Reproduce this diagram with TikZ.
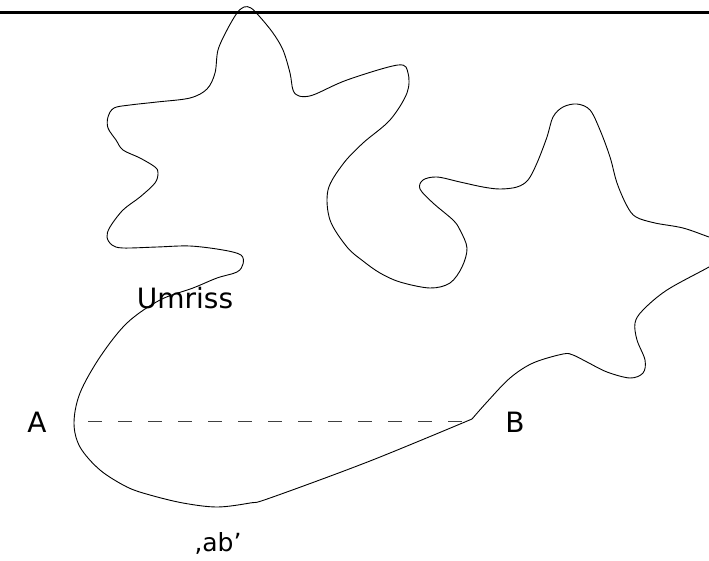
\documentclass[tikz,border=0pt]{standalone}
\usepackage{fontspec}
\setmainfont{DejaVu Sans}
\begin{document}
\begin{tikzpicture}[x=1pt,y=-1pt,
  outline/.style={line width=0.9pt, black},
  lbl/.style={font=\fontsize{28}{30}\selectfont, inner sep=0pt}]
\useasboundingbox (0,0) rectangle (709,560);
\clip (0,0) rectangle (709,560);
\draw[line width=3pt] (0,12) -- (709,12);
% outline: right edge to B
\draw[outline] plot[smooth, tension=0.55] coordinates {
 (735,252) (709,267) (667,290) (643,310) (635,323) (637,340) (645,360) (643,373)
 (630,378) (607,372) (587,362) (573,355) (563,354) (533,363) (510,378) (487,402) (472,419)};
% outline: B round the left and top back to the right edge
\draw[outline] plot[smooth, tension=0.55] coordinates {
 (472,419) (370,461) (270,498) (250,503) (217,507) (183,503) (150,495) (127,487) (100,470) (80,447)
 (74,423) (80,393) (100,357) (127,323) (160,300) (193,288) (217,278) (237,272)
 (243,264) (241,255) (223,250) (190,246) (157,247) (123,248) (112,245) (107,237)
 (110,227) (123,210) (140,197) (155,183) (158,173) (155,167) (140,158) (123,150)
 (116,140) (108,128) (108,117) (114,108) (130,105) (157,102) (190,98) (207,89)
 (215,73) (218,50) (227,30) (237,13) (244,7) (251,8) (260,17) (273,33) (283,50)
 (290,73) (293,90) (299,96) (313,95) (347,80) (398,65) (408,73) (407,93) (390,120)
 (363,143) (343,164) (328,190) (330,220) (347,247) (363,261) (380,273) (400,282)
 (430,288) (450,283) (462,267) (467,248) (460,230) (453,220) (433,203) (420,189)
 (423,180) (437,177) (460,182) (483,187) (500,189) (517,187) (528,180) (537,163)
 (547,137) (553,117) (563,107) (577,104) (590,110) (600,130) (610,157) (617,183)
 (627,206) (636,217) (655,223) (683,228) (709,237) (735,246)};
% dashed chord
\coordinate (pa) at (88,421);
\coordinate (pb) at (472,421);
\draw[line width=0.9pt, black!75, dash pattern=on 14pt off 16pt] (pa) -- (pb);
% labels
\node[lbl] (A) at (37,422) {A};
\node[lbl] (B) at (515,422) {B};
\node[lbl] (umriss) at (185,298) {Umriss};
\node[lbl, font=\fontsize{25}{27}\selectfont, anchor=base] (ab) at (218,551) {‚ab’};
\end{tikzpicture}
\end{document}
